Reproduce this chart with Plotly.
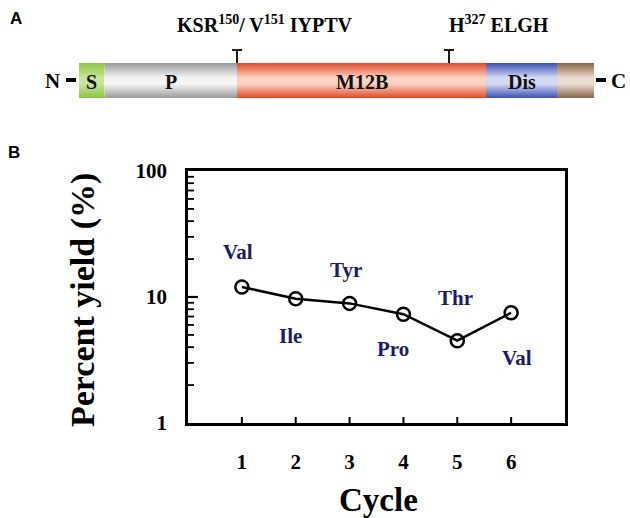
import numpy as np
import plotly.graph_objects as go

# ---------------- data ----------------
cycles = [1, 2, 3, 4, 5, 6]
yield_pct = [12.0, 9.7, 8.9, 7.3, 4.5, 7.5]
residues = ["Val", "Ile", "Tyr", "Pro", "Thr", "Val"]
label_x = [0.93, 1.91, 2.93, 3.80, 4.96, 6.11]
label_y = [22.8, 4.9, 16.4, 3.9, 9.8, 3.3]
y_ticks = [1, 10, 100]
y_minor = [2, 3, 4, 5, 6, 7, 8, 9, 20, 30, 40, 50, 60, 70, 80, 90]

domain_names = ["S", "P", "M12B", "Dis", ""]
domain_start = [79, 104.5, 237, 486, 557]
domain_end = [104.5, 237, 486, 557, 594]
domain_dark = ["#8cc63f", "#9a9a9a", "#df4a26", "#3b4fb3", "#8a6447"]
domain_light = ["#c8e59a", "#f4f4f4", "#fbd2c2", "#d4daf3", "#eadccf"]
site_pos = [237, 449]

SERIF = "Liberation Serif"
NAVY = "#1c1c6b"
PLOT_W = 565 - 188
PLOT_H = 423 - 171


def bfont(size, color="black", family=SERIF):
    return dict(family=family, size=size, color=color, weight="bold")


fig = go.Figure()

# ---------------- panel B ----------------
fig.add_trace(go.Scatter(
    x=cycles, y=yield_pct, mode="lines+markers",
    line=dict(color="black", width=2.5),
    marker=dict(symbol="circle-open", size=13, color="black", line=dict(width=2.5)),
    showlegend=False, xaxis="x", yaxis="y"))

for t, lx, ly in zip(residues, label_x, label_y):
    fig.add_annotation(x=lx, y=np.log10(ly), xref="x", yref="y", text=t,
                       showarrow=False, font=bfont(21, NAVY),
                       xanchor="center", yanchor="middle")

# tick marks drawn inside the frame
for v in y_minor:
    fig.add_shape(type="line", xref="x domain", yref="y", x0=0, x1=6 / PLOT_W,
                  y0=v, y1=v, line=dict(color="black", width=1.8))
for v in y_ticks[1:-1]:
    fig.add_shape(type="line", xref="x domain", yref="y", x0=0, x1=10 / PLOT_W,
                  y0=v, y1=v, line=dict(color="black", width=2.2))
for c in cycles:
    fig.add_shape(type="line", xref="x", yref="y domain", x0=c, x1=c,
                  y0=0, y1=6 / PLOT_H, line=dict(color="black", width=2))

# ---------------- panel A ----------------
bar_top, bar_bot = 63, 98
for name, s, e, dk, lt in zip(domain_names, domain_start, domain_end, domain_dark, domain_light):
    fig.add_trace(go.Scatter(
        x=[s, e, e, s, s], y=[bar_top, bar_top, bar_bot, bar_bot, bar_top],
        mode="lines", line=dict(width=0), fill="toself",
        fillgradient=dict(type="vertical",
                          colorscale=[[0, dk], [0.40, lt], [0.58, lt], [1, dk]]),
        showlegend=False, hoverinfo="skip", xaxis="x2", yaxis="y2"))
    if name:
        fig.add_annotation(x=(s + e) / 2, y=(bar_top + bar_bot) / 2 + 1, xref="x2", yref="y2",
                           text=name, showarrow=False, font=bfont(20, "#111111"),
                           xanchor="center", yanchor="middle")

fig.add_shape(type="line", xref="x2", yref="y2", x0=66, x1=76, y0=80, y1=80,
              line=dict(color="black", width=4))
fig.add_shape(type="line", xref="x2", yref="y2", x0=596, x1=606, y0=80, y1=80,
              line=dict(color="black", width=4))
fig.add_annotation(x=52, y=81, xref="x2", yref="y2", text="N", showarrow=False,
                   font=bfont(21), xanchor="center", yanchor="middle")
fig.add_annotation(x=618, y=81, xref="x2", yref="y2", text="C", showarrow=False,
                   font=bfont(21), xanchor="center", yanchor="middle")

for p in site_pos:
    fig.add_shape(type="line", xref="x2", yref="y2", x0=p - 5, x1=p + 5, y0=50, y1=50,
                  line=dict(color="black", width=1.8))
    fig.add_shape(type="line", xref="x2", yref="y2", x0=p, x1=p, y0=50, y1=63,
                  line=dict(color="black", width=1.8))

fig.add_annotation(x=265, y=24, xref="x2", yref="y2",
                   text="KSR<sup>150</sup>/ V<sup>151</sup> IYPTV", showarrow=False,
                   font=bfont(20), xanchor="center", yanchor="middle")
fig.add_annotation(x=499, y=24, xref="x2", yref="y2",
                   text="H<sup>327</sup> ELGH", showarrow=False, font=bfont(20),
                   xanchor="center", yanchor="middle")

fig.add_annotation(x=8 / 630, y=1 - 18 / 518, xref="paper", yref="paper", text="A",
                   showarrow=False, xanchor="left", yanchor="middle",
                   font=bfont(17, family="Liberation Sans"))
fig.add_annotation(x=6 / 630, y=1 - 152 / 518, xref="paper", yref="paper", text="B",
                   showarrow=False, xanchor="left", yanchor="middle",
                   font=bfont(17, family="Liberation Sans"))

fig.add_annotation(x=83 / 630, y=1 - 300 / 518, xref="paper", yref="paper",
                   text="Percent yield (%)", textangle=-90, showarrow=False,
                   font=bfont(34), xanchor="center", yanchor="middle")
fig.add_annotation(x=378 / 630, y=1 - 500 / 518, xref="paper", yref="paper",
                   text="Cycle", showarrow=False, font=bfont(33),
                   xanchor="center", yanchor="middle")

fig.update_layout(
    width=630, height=518,
    margin=dict(l=0, r=0, t=0, b=0, autoexpand=False),
    paper_bgcolor="white", plot_bgcolor="white",
    xaxis=dict(domain=[188 / 630, 565 / 630], range=[0, 7], tickvals=cycles,
               ticks="", showline=True, linewidth=2.8, linecolor="black", mirror=True,
               showgrid=False, zeroline=False, automargin=False,
               tickfont=bfont(21), ticklabelstandoff=18, anchor="y"),
    yaxis=dict(domain=[1 - 423 / 518, 1 - 171 / 518], type="log", range=[0, 2],
               tickmode="array", tickvals=y_ticks,
               ticks="", showline=True, linewidth=2.8, linecolor="black", mirror=True,
               showgrid=False, zeroline=False, automargin=False,
               tickfont=bfont(21), ticklabelstandoff=14, anchor="x"),
    xaxis2=dict(domain=[0, 1], range=[0, 630], visible=False, anchor="y2"),
    yaxis2=dict(domain=[1 - 110 / 518, 1], range=[110, 0], visible=False, anchor="x2"),
)

fig.write_html("out.html", config={"displayModeBar": False},
               post_script="document.body.style.margin='0';")
